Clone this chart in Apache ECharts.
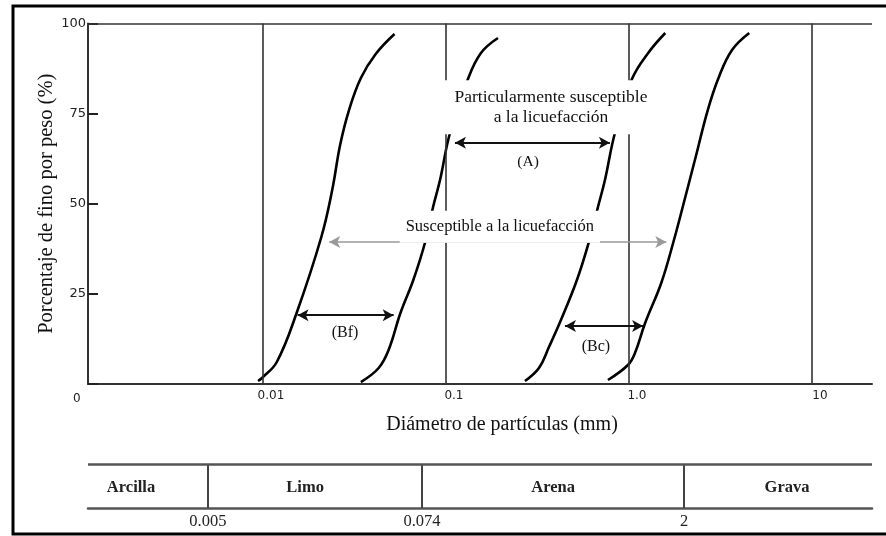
<!DOCTYPE html>
<html>
<head>
<meta charset="utf-8">
<script src="https://cdn.jsdelivr.net/npm/echarts@6/dist/echarts.min.js"></script>
<style>html,body{margin:0;padding:0;background:#fff;}#c{width:886px;height:536px;}</style>
</head>
<body>
<div id="c"></div>
<script>
// ---- data ----
const xTicks = [0.01, 0.1, 1, 10];
const xTickLabels = ['0.01', '0.1', '1.0', '10'];
const yTicks = [25, 50, 75, 100];

// grading curves: [diameter mm, % passing]
const curveBfLeft = [[0.00940,0.83],[0.00988,1.66],[0.01190,6.10],[0.01527,19.69],[0.02084,40.78],[0.02390,53.81],[0.02640,66.30],[0.02953,76.0],[0.03428,84.88],[0.04132,91.54],[0.05234,97.09]];
const curveBfRight = [[0.03428,0.55],[0.04289,4.44],[0.04859,9.43],[0.05641,19.69],[0.06632,28.85],[0.07700,39.39],[0.08505,49.10],[0.09281,56.59],[0.1052,69.63],[0.1319,84.6],[0.1553,91.82],[0.1924,95.98]];
const curveBcLeft = [[0.2702,0.83],[0.3223,4.44],[0.3655,10.26],[0.4250,17.75],[0.5197,28.85],[0.6043,39.39],[0.6771,49.10],[0.7394,56.59],[0.8384,69.63],[1.039,84.6],[1.274,91.82],[1.580,97.36]];
const curveBcRight = [[0.7677,1.11],[0.9875,5.27],[1.079,8.60],[1.226,16.92],[1.502,28.02],[1.750,39.39],[2.013,51.04],[2.316,62.97],[2.697,76.0],[3.102,85.16],[3.660,92.65],[4.545,97.36]];

// arrows: [x1, x2, y%]
const arrowA = [0.112, 0.787, 66.9];
const arrowBf = [0.01545, 0.0518, 19.1];
const arrowBc = [0.447, 1.195, 16.1];
const arrowSus = [0.0230, 1.601, 39.4];

// annotation labels: [x, y%, text]
const labelA = [0.281, 61.6, '(A)'];
const labelBf = [0.0281, 14.1, '(Bf)'];
const labelBc = [0.660, 10.3, '(Bc)'];
const labelSus = [0.197, 43.6, 'Susceptible a la licuefacción'];
const labelPart = [0.375, 76.8, 'Particularmente susceptible\na la licuefacción'];

// soil classification band
const soilBounds = [0.005, 0.074, 2];
const soilBoundLabels = ['0.005', '0.074', '2'];
const soilNames = ['Arcilla', 'Limo', 'Arena', 'Grava'];
const soilNameX = [0.0019, 0.0170, 0.385, 7.31];

const xMin = 0.001106, xMax = 21.3;

// ---- chart ----
const chart = echarts.init(document.getElementById('c'), null, {renderer: 'canvas'});
const serif = 'Liberation Serif';
const sans = 'DejaVu Sans';

function curveSeries(data, extra) {
  return Object.assign({
    type: 'line', xAxisIndex: 0, yAxisIndex: 0, data: data, smooth: 0.4,
    symbol: 'none', z: 3,
    lineStyle: {color: '#000', width: 2.6}
  }, extra || {});
}
function arrow(a, color, width) {
  return [{coord: [a[0], a[2]], lineStyle: {color: color, width: width, type: 'solid'}},
          {coord: [a[1], a[2]]}];
}
function labelText(p) { return p.value[2]; }

const option = {
  animation: false,
  backgroundColor: '#fff',
  grid: [
    {left: 88, right: 14, top: 23.5, bottom: 152},
    {left: 88, right: 14, top: 464, height: 44}
  ],
  xAxis: [
    {type: 'log', gridIndex: 0, min: xMin, max: xMax,
     axisLine: {show: true, lineStyle: {color: '#333', width: 2}},
     axisTick: {show: false}, axisLabel: {show: false}, splitLine: {show: false},
     name: 'Diámetro de partículas (mm)', nameLocation: 'middle', nameGap: 31,
     nameMoveOverlap: false,
     nameTextStyle: {fontFamily: serif, fontSize: 20, color: '#111', padding: [0, 0, 0, 44]}},
    {type: 'log', gridIndex: 1, min: xMin, max: xMax,
     axisLine: {show: true, lineStyle: {color: '#555', width: 2.5}},
     axisTick: {show: false}, axisLabel: {show: false}, splitLine: {show: false}}
  ],
  yAxis: [
    {type: 'value', gridIndex: 0, min: 0, max: 100, interval: 25,
     axisLine: {show: true, lineStyle: {color: '#333', width: 2}},
     axisTick: {show: true, inside: true, length: 10, lineStyle: {color: '#222', width: 2}},
     axisLabel: {fontFamily: sans, fontSize: 13, color: '#222', margin: 2,
       formatter: function (v) { return yTicks.indexOf(v) >= 0 ? String(v) : ''; }},
     splitLine: {show: false},
     name: 'Porcentaje de fino por peso (%)', nameLocation: 'middle', nameGap: 31,
     nameMoveOverlap: false,
     nameTextStyle: {fontFamily: serif, fontSize: 20.5, color: '#111'}},
    {type: 'value', gridIndex: 1, min: 0, max: 1, show: false}
  ],
  series: [
    curveSeries(curveBfLeft, {
      markLine: {
        silent: true, symbol: 'none',
        lineStyle: {color: '#333', width: 1.6, type: 'solid'},
        label: {show: true, position: 'start', distance: 6, fontFamily: sans, fontSize: 12,
                color: '#222', padding: [0, 0, 0, 16]},
        data: xTicks.map(function (v, i) {
          return [{coord: [v, 0], label: {formatter: xTickLabels[i]}}, {coord: [v, 100]}];
        }).concat([[{coord: [xMin, 100], label: {show: false}}, {coord: [xMax, 100]}]])
      }
    }),
    curveSeries(curveBfRight),
    curveSeries(curveBcLeft),
    curveSeries(curveBcRight, {
      markLine: {
        silent: true, symbol: ['arrow', 'arrow'], symbolSize: [9, 11],
        label: {show: false},
        data: [arrow(arrowA, '#111', 2), arrow(arrowBf, '#111', 2),
               arrow(arrowBc, '#111', 2), arrow(arrowSus, '#999', 1.5)]
      }
    }),
    {
      type: 'scatter', xAxisIndex: 0, yAxisIndex: 0, z: 10, symbolSize: 1,
      itemStyle: {color: 'rgba(0,0,0,0)', opacity: 1},
      label: {show: true, position: 'inside', color: '#111', fontFamily: serif, formatter: labelText},
      data: [
        {value: labelA, label: {fontSize: 15.5}},
        {value: labelBf, label: {fontSize: 16}},
        {value: labelBc, label: {fontSize: 16}},
        {value: labelSus, label: {fontSize: 16.5, backgroundColor: '#fff', padding: [10, 6, 4, 6], lineHeight: 18}},
        {value: labelPart, label: {fontSize: 17.5, backgroundColor: '#fff', padding: [7, 10], lineHeight: 20}}
      ]
    },
    {
      type: 'scatter', xAxisIndex: 1, yAxisIndex: 1, z: 10, symbolSize: 1,
      itemStyle: {color: 'rgba(0,0,0,0)', opacity: 1},
      label: {show: true, position: 'inside', color: '#222', fontFamily: serif, fontSize: 16.5,
              fontWeight: 'bold', formatter: labelText},
      data: soilNames.map(function (n, i) { return [soilNameX[i], 0.45, n]; }),
      markLine: {
        silent: true, symbol: 'none',
        lineStyle: {color: '#444', width: 2, type: 'solid'},
        label: {show: true, position: 'start', distance: 5, fontFamily: serif, fontSize: 16.5,
                color: '#222'},
        data: soilBounds.map(function (v, i) {
          return [{coord: [v, 0], label: {formatter: soilBoundLabels[i]}}, {coord: [v, 1]}];
        }).concat([[{coord: [xMin, 1], label: {show: false}, lineStyle: {color: '#555', width: 2.5}}, {coord: [xMax, 1]}]])
      }
    }
  ],
  graphic: [
    {type: 'rect', shape: {x: 13, y: 6, width: 880, height: 528},
     style: {fill: 'none', stroke: '#000', lineWidth: 3}, silent: true},
    {type: 'text', left: 73, top: 393,
     style: {text: '0', fontFamily: sans, fontSize: 12, fill: '#222'}}
  ]
};
chart.setOption(option);
</script>
</body>
</html>
